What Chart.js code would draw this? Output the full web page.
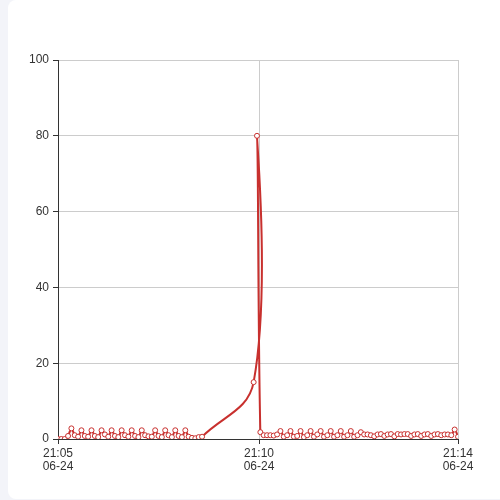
<!DOCTYPE html>
<html>
<head>
<meta charset="utf-8">
<script src="https://cdn.jsdelivr.net/npm/chart.js@4.4.1/dist/chart.umd.min.js"></script>
<style>
  html, body { margin: 0; padding: 0; width: 500px; height: 500px; background: #f3f4f9; overflow: hidden; }
  #card { position: absolute; left: 8px; top: 0; width: 500px; height: 499px; background: #fff; border-radius: 8px; }
  #c { position: absolute; left: 0; top: 0; }
</style>
</head>
<body>
<div id="card"></div>
<canvas id="c" width="500" height="500"></canvas>
<script>
// seconds after 21:05:00 (06-24)
const leftSeconds = [0,5,10,15,20,25,30,35,40,45,50,55,60,65,70,75,80,85,90,95,100,105,110,115,120,125,130,135,140,145,150,155,160,165,170,175,180,185,190,195,200,205,210,215];
const leftValues  = [0,0,0,0.8,2.8,1,0.6,2.3,0.8,0.6,2.3,0.8,0.5,2.3,1.2,0.6,2.3,0.8,0.5,2.3,1,0.6,2.3,0.8,0.5,2.3,1,0.7,0.6,2.3,0.8,0.5,2.3,1,0.5,2.3,0.8,0.5,2.3,0.6,0.3,0.2,0.5,0.6];

const spikeSeconds = [292,297];
const spikeValues  = [15,80];

const rightSeconds = [302,307,312,317,322,327,332,337,342,347,352,357,362,367,372,377,382,387,392,397,402,407,412,417,422,427,432,437,442,447,452,457,462,467,472,477,482,487,492,497,502,507,512,517,522,527,532,537,542,547,552,557,562,567,572,577,582,587,592,597];
const rightValues  = [1.8,1,1,1,0.9,1.2,2.1,0.6,1,2.1,0.6,0.8,2.1,0.5,1,2.1,0.6,1.2,2.1,0.6,1,2.1,0.6,1,2.1,0.6,1,2.1,0.6,1,1.8,1.2,1.2,1,0.7,1.2,1.3,0.8,1.2,1.3,0.7,1.3,1.2,1.3,1.3,0.8,1.2,1.3,0.8,1.2,1.3,0.8,1.2,1.3,1,1.2,1.2,1,2.5,0.6];

const xTickSeconds = [0, 300, 597];
const xTickLabels  = [['21:05','06-24'], ['21:10','06-24'], ['21:14','06-24']];
const yTicks = [0, 20, 40, 60, 80, 100];

const allSeconds = leftSeconds.concat(spikeSeconds, rightSeconds);
const allValues  = leftValues.concat(spikeValues, rightValues);
const points = allSeconds.map((s, i) => ({ x: s, y: allValues[i] }));

const red = '#c8302e';
const axisColor = '#333';
const gridColor = '#cccccc';
const font = { family: '"Liberation Sans", Arial, sans-serif', size: 12, lineHeight: 1.1 };

new Chart(document.getElementById('c'), {
  type: 'line',
  data: {
    datasets: [{
      data: points,
      borderColor: red,
      borderWidth: 2,
      tension: 0.4,
      pointRadius: 2.5,
      pointBorderWidth: 1,
      pointBorderColor: red,
      pointBackgroundColor: '#fff',
      fill: false
    }]
  },
  options: {
    responsive: false,
    animation: false,
    devicePixelRatio: 1,
    layout: { padding: { top: 60, right: 42, left: 0, bottom: 0 } },
    plugins: { legend: { display: false }, tooltip: { enabled: false } },
    scales: {
      x: {
        type: 'linear',
        min: xTickSeconds[0],
        max: xTickSeconds[xTickSeconds.length - 1],
        afterBuildTicks: (scale) => { scale.ticks = xTickSeconds.map(v => ({ value: v })); },
        afterFit: (scale) => { scale.height = 61; },
        ticks: {
          autoSkip: false,
          maxRotation: 0,
          color: axisColor,
          font: font,
          padding: 3,
          callback: (v) => { const i = xTickSeconds.indexOf(v); return i >= 0 ? xTickLabels[i] : ''; }
        },
        grid: { color: gridColor, tickColor: axisColor, tickLength: 5, lineWidth: 1 },
        border: { color: axisColor, width: 1 }
      },
      y: {
        min: yTicks[0],
        max: yTicks[yTicks.length - 1],
        afterBuildTicks: (scale) => { scale.ticks = yTicks.map(v => ({ value: v })); },
        afterFit: (scale) => { scale.width = 58; },
        ticks: { color: axisColor, font: font, padding: 4 },
        grid: { color: gridColor, tickColor: axisColor, tickLength: 5, lineWidth: 1 },
        border: { color: axisColor, width: 1 }
      }
    }
  }
});
</script>
</body>
</html>
